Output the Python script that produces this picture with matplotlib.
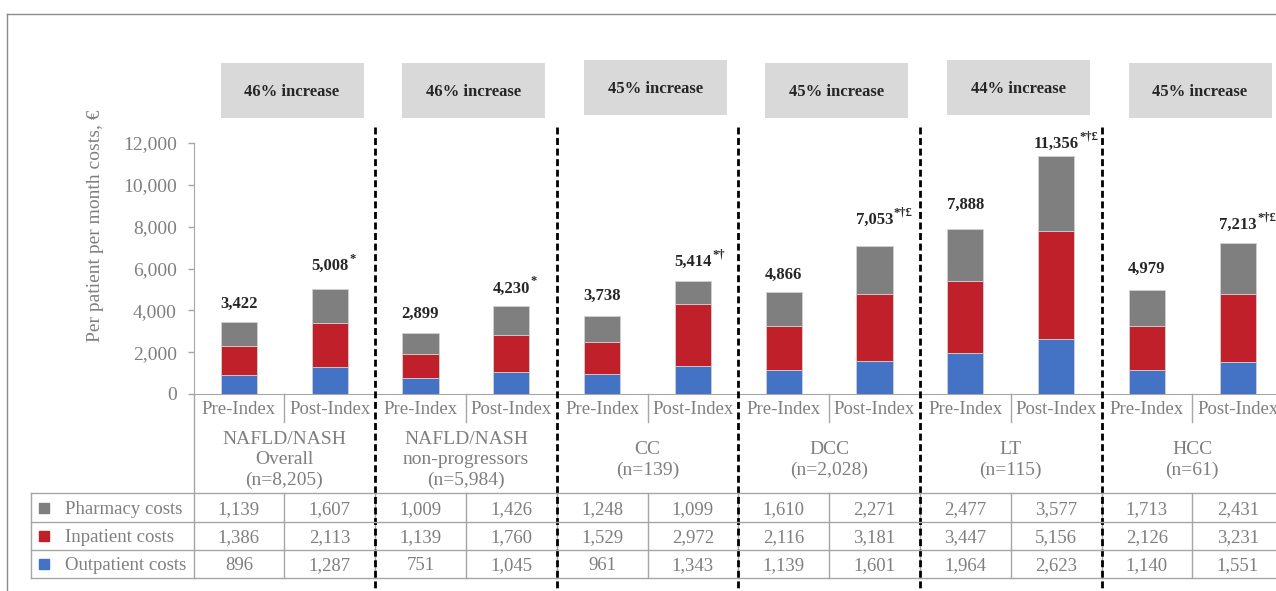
import matplotlib
matplotlib.use("Agg")
import matplotlib.pyplot as plt
import numpy as np
from matplotlib.transforms import blended_transform_factory
from matplotlib.patches import Rectangle
from matplotlib.lines import Line2D

# ---------------- data ----------------
groups = ["NAFLD/NASH\nOverall\n(n=8,205)", "NAFLD/NASH\nnon-progressors\n(n=5,984)",
          "CC\n(n=139)", "DCC\n(n=2,028)", "LT\n(n=115)", "HCC\n(n=61)"]
periods = ["Pre-Index", "Post-Index"]
series_names = ["Pharmacy costs", "Inpatient costs", "Outpatient costs"]
pharmacy = [1139, 1607, 1009, 1426, 1248, 1099, 1610, 2271, 2477, 3577, 1713, 2431]
inpatient = [1386, 2113, 1139, 1760, 1529, 2972, 2116, 3181, 3447, 5156, 2126, 3231]
outpatient = [896, 1287, 751, 1045, 961, 1343, 1139, 1601, 1964, 2623, 1140, 1551]
totals = [3422, 5008, 2899, 4230, 3738, 5414, 4866, 7053, 7888, 11356, 4979, 7213]
total_marks = ["", "*", "", "*", "", "*†", "", "*†£", "", "*†£", "", "*†£"]
increases = ["46% increase", "46% increase", "45% increase", "45% increase", "44% increase", "45% increase"]
yticks = [0, 2000, 4000, 6000, 8000, 10000, 12000]

# ---------------- style ----------------
plt.rcParams['font.family'] = ['Liberation Serif', 'DejaVu Serif']
C_GRAY, C_RED, C_BLUE = "#7f7f7f", "#c0202a", "#4472c4"
TXT_GRAY = "#7f7f7f"
LINE_GRAY = "#a6a6a6"
DARK = "#262626"

W, H = 1276, 591
fig = plt.figure(figsize=(W / 100, H / 100), dpi=100)


def fy(py):
    return 1 - py / H


def fx(px):
    return px / W


ax_left, ax_top, ax_bot, col_w = 193.5, 143, 394, 90.8
n = len(totals)
ax = fig.add_axes([fx(ax_left), fy(ax_bot), n * col_w / W, (ax_bot - ax_top) / H])
ax.set_xlim(0, n)
ax.set_ylim(0, 12000)

x = np.arange(n) + 0.5
bw = 0.4
ec = "#d0d0d0"
ax.bar(x, outpatient, bw, color=C_BLUE, edgecolor=ec, linewidth=0.6, zorder=3)
ax.bar(x, inpatient, bw, bottom=outpatient, color=C_RED, edgecolor=ec, linewidth=0.6, zorder=3)
bottom2 = np.array(outpatient) + np.array(inpatient)
ax.bar(x, pharmacy, bw, bottom=bottom2, color=C_GRAY, edgecolor=ec, linewidth=0.6, zorder=3)

for s in ["top", "right"]:
    ax.spines[s].set_visible(False)
ax.spines["left"].set_color(LINE_GRAY)
ax.spines["bottom"].set_color(LINE_GRAY)
ax.spines["bottom"].set_clip_on(False)
ax.set_xticks([])
ax.set_yticks(yticks)
ax.set_yticklabels([f"{v:,}" for v in yticks])
ax.tick_params(axis="y", colors=LINE_GRAY, labelcolor=TXT_GRAY, labelsize=14,
               length=4, width=1, pad=8)

# total labels with superscripts
label_dy = [19, 23, 19, 17, 20, 19, 17, 27, 24, 13, 21, 18]
for i, (t, m, dy) in enumerate(zip(totals, total_marks, label_dy)):
    txt = ax.annotate(f"{t:,}", xy=(x[i], t), xytext=(0, dy * 0.72), textcoords="offset points",
                      ha="center", va="center", fontsize=12, fontweight="bold", color=DARK,
                      annotation_clip=False)
    if m:
        ax.annotate(m, xy=(1, 0.95), xycoords=txt, xytext=(0.5, 0), textcoords="offset points",
                    ha="left", va="center", fontsize=9, fontweight="bold", color=DARK)

trans = blended_transform_factory(ax.transData, fig.transFigure)

# increase boxes
box_shift = [0, 0, -3, 0, -3, 0]
for g, lab in enumerate(increases):
    top = 63 + box_shift[g]
    bot = 118 + box_shift[g]
    x0 = 2 * g + 27 / col_w
    wbox = 143 / col_w
    ax.add_patch(Rectangle((x0, fy(bot)), wbox, fy(top) - fy(bot), transform=trans,
                           facecolor="#d9d9d9", edgecolor="none", clip_on=False, zorder=2))
    ax.text(x0 + wbox / 2, fy((top + bot) / 2 + 1.5), lab, transform=trans, ha="center", va="center",
            fontsize=12, fontweight="bold", color=DARK, clip_on=False)

# header: period labels and separators
for i in range(n):
    ax.text(x[i], fy(410), periods[i % 2], transform=trans, ha="center", va="center",
            fontsize=13.5, color=TXT_GRAY, clip_on=False)
for g in range(len(groups)):
    ax.plot([2 * g + 1, 2 * g + 1], [fy(394), fy(422)], transform=trans, color=LINE_GRAY,
            lw=1, clip_on=False)
    ax.text(2 * g + 1, fy(460), groups[g], transform=trans, ha="center", va="center",
            fontsize=14, color=TXT_GRAY, linespacing=1.22, clip_on=False)
ax.plot([0, 0], [fy(394), fy(578)], transform=trans, color=LINE_GRAY, lw=1, clip_on=False)

# table
row_lines = [493, 522, 550, 578]
for py in row_lines:
    fig.add_artist(Line2D([fx(31), 1], [fy(py), fy(py)], color=LINE_GRAY, lw=1))
fig.add_artist(Line2D([fx(31), fx(31)], [fy(493), fy(578)], color=LINE_GRAY, lw=1))
for k in range(1, n + 1):
    ax.plot([k, k], [fy(493), fy(578)], transform=trans, color=LINE_GRAY, lw=1, clip_on=False)

row_vals = [pharmacy, inpatient, outpatient]
row_cols = [C_GRAY, C_RED, C_BLUE]
for r in range(3):
    cy = (row_lines[r] + row_lines[r + 1]) / 2
    fig.add_artist(Line2D([fx(43.5)], [fy(cy)], marker="s", markersize=6.5, color=row_cols[r],
                          linestyle="none"))
    fig.text(fx(65), fy(cy + 1.5), series_names[r], ha="left", va="center", fontsize=13.5,
             color=TXT_GRAY)
    for i in range(n):
        ax.text(x[i], fy(cy + 2), f"{row_vals[r][i]:,}", transform=trans, ha="center",
                va="center", fontsize=13.5, color=TXT_GRAY, clip_on=False)

# dashed group separators
for g in range(1, len(groups)):
    ax.plot([2 * g, 2 * g], [fy(127), fy(590)], transform=trans, color="black", lw=2,
            linestyle=(0, (2.5, 1.3)), clip_on=False, zorder=5)

# y label
fig.text(fx(96), fy(226), "Per patient per month costs, €", rotation=90, ha="center", va="center",
         fontsize=14, color=TXT_GRAY)

# outer border
fig.add_artist(Line2D([fx(7), 1], [fy(14), fy(14)], color="#8c8c8c", lw=1))
fig.add_artist(Line2D([fx(7), fx(7)], [fy(14), 0], color="#8c8c8c", lw=1))

fig.savefig("out.png", dpi=100)
